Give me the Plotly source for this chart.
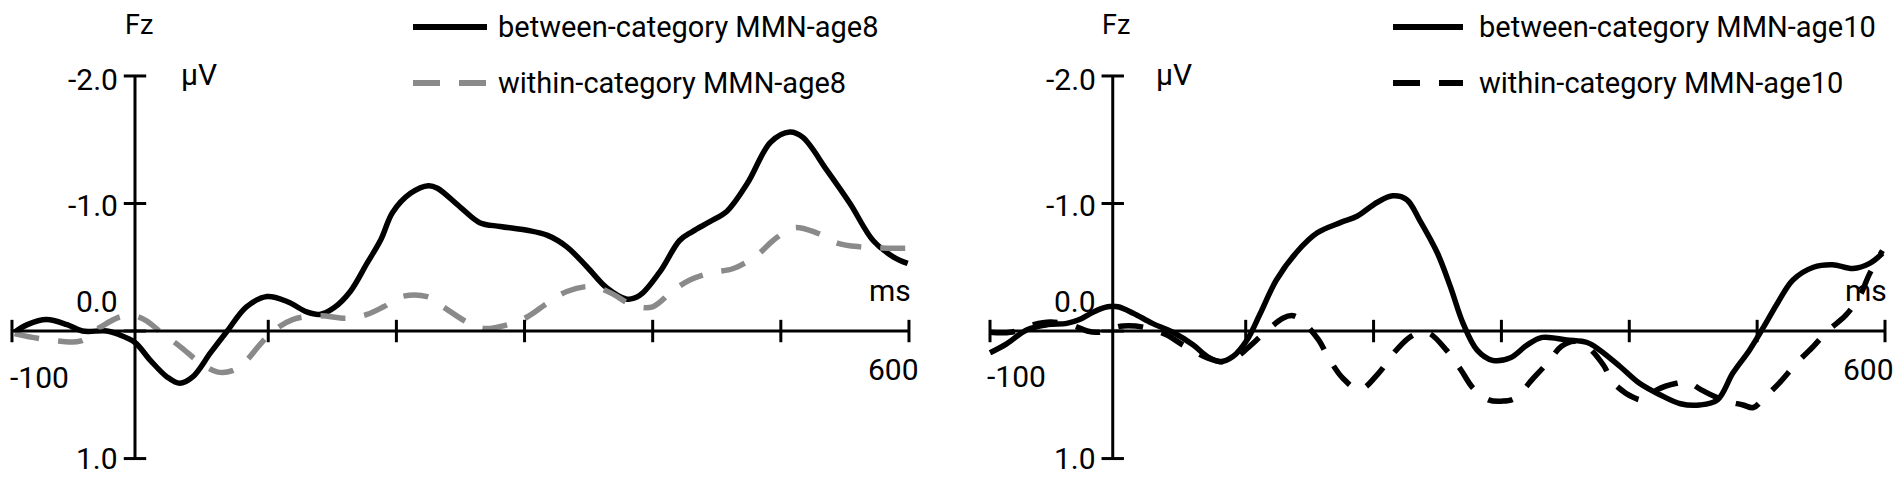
import plotly.graph_objects as go

# the page body keeps its default 8px margin, so the figure is drawn 8px smaller
OFF = 8
W, H = 1902 - OFF, 481 - OFF

# ---------------- data (time in ms, amplitude in µV; negative up) ----------------
t_between8 = [-98, -88, -73, -57, -45, -26, -16, -4, 8, 21, 31, 41, 55, 68, 83, 99,
              115, 130, 140, 151, 164, 177, 188, 197, 211, 225, 232, 250, 265, 281,
              302, 318, 333, 349, 364, 380, 390, 406, 421, 431, 445, 458, 474, 492,
              507, 517, 536, 554, 572, 588, 599]
v_between8 = [0.01, -0.05, -0.09, -0.05, 0.0, 0.0, 0.03, 0.09, 0.23, 0.36, 0.41, 0.36,
              0.17, 0.0, -0.19, -0.27, -0.23, -0.15, -0.13, -0.18, -0.31, -0.53, -0.72,
              -0.93, -1.08, -1.14, -1.12, -0.97, -0.85, -0.82, -0.79, -0.75, -0.66,
              -0.50, -0.34, -0.25, -0.28, -0.47, -0.71, -0.78, -0.86, -0.94, -1.16,
              -1.48, -1.56, -1.52, -1.26, -1.00, -0.71, -0.58, -0.53]

t_within8 = [-98, -84, -62, -47, -31, -16, -5, 5, 15, 31, 47, 60, 72, 83, 94, 104, 119,
             140, 161, 177, 190, 204, 224, 238, 255, 268, 287, 302, 318, 333, 353, 367,
             385, 400, 415, 429, 447, 463, 482, 494, 510, 528, 544, 562, 583, 605]
v_within8 = [0.02, 0.05, 0.08, 0.08, -0.03, -0.11, -0.12, -0.08, 0.0, 0.12, 0.25, 0.32,
             0.31, 0.23, 0.10, 0.0, -0.09, -0.12, -0.10, -0.13, -0.19, -0.27, -0.27,
             -0.18, -0.07, -0.02, -0.05, -0.11, -0.22, -0.31, -0.35, -0.30, -0.20,
             -0.19, -0.31, -0.40, -0.46, -0.49, -0.60, -0.71, -0.81, -0.77, -0.69,
             -0.66, -0.65, -0.65]

t_between10 = [-100, -87, -71, -55, -40, -30, -19, -8, 0, 12, 27, 43, 59, 70, 80, 90,
               101, 111, 124, 140, 156, 174, 187, 203, 215, 226, 236, 250, 260, 270,
               281, 293, 307, 320, 332, 351, 367, 377, 393, 408, 424, 440, 455, 469,
               481, 494, 505, 516, 528, 544, 559, 575, 588, 598]
v_between10 = [0.17, 0.10, -0.01, -0.05, -0.06, -0.09, -0.15, -0.19, -0.19, -0.14,
               -0.06, 0.01, 0.11, 0.20, 0.24, 0.20, 0.07, -0.13, -0.40, -0.62, -0.77,
               -0.85, -0.90, -1.01, -1.06, -1.03, -0.87, -0.61, -0.35, -0.06, 0.15,
               0.23, 0.21, 0.11, 0.05, 0.07, 0.09, 0.15, 0.28, 0.41, 0.50, 0.57, 0.58,
               0.54, 0.33, 0.15, -0.03, -0.22, -0.40, -0.50, -0.52, -0.49, -0.53, -0.61]

t_within10 = [-100, -84, -66, -53, -37, -24, -16, -5, 4, 20, 38, 51, 70, 82, 92, 103,
              113, 129, 137, 145, 157, 166, 176, 189, 204, 216, 228, 237, 244, 257,
              268, 278, 290, 300, 310, 325, 336, 347, 357, 367, 380, 387, 403, 412,
              422, 437, 446, 456, 473, 489, 497, 505, 518, 531, 544, 555, 569, 580,
              588, 598]
v_within10 = [0.01, 0.01, -0.05, -0.07, -0.05, 0.0, 0.01, -0.02, -0.04, -0.03, 0.03,
              0.11, 0.21, 0.24, 0.21, 0.12, 0.03, -0.10, -0.12, -0.07, 0.07, 0.23,
              0.37, 0.46, 0.33, 0.17, 0.05, 0.01, 0.02, 0.15, 0.30, 0.45, 0.54, 0.55,
              0.53, 0.37, 0.25, 0.12, 0.08, 0.12, 0.27, 0.40, 0.52, 0.54, 0.46, 0.41,
              0.40, 0.46, 0.54, 0.58, 0.60, 0.53, 0.40, 0.25, 0.12, 0.0, -0.12, -0.27,
              -0.45, -0.63]

x_ticks = [-100, 100, 200, 300, 400, 500, 600]
y_ticks = [-2.0, -1.0, 0.0, 1.0]
y_ticktext = ["-2.0", "-1.0", "0.0", "1.0"]
x_ticktext = ["-100", "600"]

names8 = ["between-category MMN-age8", "within-category MMN-age8"]
names10 = ["between-category MMN-age10", "within-category MMN-age10"]

# ---------------- figure ----------------
FONT = "Roboto"
FS_LEG = 29
FS_LAB = 30
AX_W = 3
CURVE_W = 5.5
DASH = "25px,19px"
GREY = "#8a8a8a"
YAX_POS = -4  # vertical axis sits slightly left of 0 ms in the original

fig = go.Figure()

panels = [
    dict(xa="x", ya="y", t1=t_between8, v1=v_between8, t2=t_within8, v2=v_within8,
         c2=GREY, names=names8),
    dict(xa="x2", ya="y2", t1=t_between10, v1=v_between10, t2=t_within10, v2=v_within10,
         c2="black", names=names10),
]

for p in panels:
    fig.add_trace(go.Scatter(x=p["t1"], y=p["v1"], mode="lines", name=p["names"][0],
                             line=dict(color="black", width=CURVE_W, shape="spline"),
                             xaxis=p["xa"], yaxis=p["ya"], showlegend=False))
    fig.add_trace(go.Scatter(x=p["t2"], y=p["v2"], mode="lines", name=p["names"][1],
                             line=dict(color=p["c2"], width=CURVE_W, shape="spline", dash=DASH),
                             xaxis=p["xa"], yaxis=p["ya"], showlegend=False))
    # tick marks crossing the axes
    fig.add_trace(go.Scatter(x=x_ticks, y=[0] * len(x_ticks), mode="markers",
                             marker=dict(symbol="line-ns", size=16,
                                         line=dict(color="black", width=AX_W)),
                             xaxis=p["xa"], yaxis=p["ya"], showlegend=False,
                             hoverinfo="skip", cliponaxis=False))
    fig.add_trace(go.Scatter(x=[YAX_POS] * len(y_ticks), y=y_ticks, mode="markers",
                             marker=dict(symbol="line-ew", size=16,
                                         line=dict(color="black", width=AX_W)),
                             xaxis=p["xa"], yaxis=p["ya"], showlegend=False,
                             hoverinfo="skip", cliponaxis=False))

shapes = []
for xa, ya in [("x", "y"), ("x2", "y2")]:
    shapes.append(dict(type="line", xref=xa, yref=ya, x0=x_ticks[0], x1=x_ticks[-1],
                       y0=0, y1=0, line=dict(color="black", width=AX_W)))
    shapes.append(dict(type="line", xref=xa, yref=ya, x0=YAX_POS, x1=YAX_POS,
                       y0=y_ticks[0], y1=y_ticks[-1], line=dict(color="black", width=AX_W)))


def px(x, y):
    # pixel of the original picture -> paper coordinates
    return (x - OFF) / W, 1 - (y - OFF) / H


annotations = []


def label(text, x, y, anchor="center", size=FS_LAB, yanchor="middle"):
    ax, ay = px(x, y)
    annotations.append(dict(text=text, x=ax, y=ay, xref="paper", yref="paper",
                            xanchor=anchor, yanchor=yanchor, showarrow=False,
                            borderpad=0,
                            font=dict(family=FONT, size=size, color="black")))


# "Fz" hangs from the top edge so its box stays inside the figure
label("Fz", 139, OFF, size=27, yanchor="top")
label("Fz", 1116, OFF, size=27, yanchor="top")
label("µV", 180, 74, "left")
label("µV", 1155, 74, "left")
for txt, yy in zip(y_ticktext, [79, 205, 301, 458]):
    label(txt, 119, yy, "right")
    label(txt, 1097, yy, "right")
label(x_ticktext[0], 39, 377)
label(x_ticktext[0], 1016, 376)
label(x_ticktext[1], 893, 369)
label(x_ticktext[1], 1868, 369)
label("ms", 912, 290, "right")
label("ms", 1888, 290, "right")

# hand-drawn legends
for (lx0, lx1, tx), names, c2 in [((413, 487, 497), names8, GREY),
                                  ((1393, 1463, 1478), names10, "black")]:
    for row, (yy, col, dash) in enumerate([(27, "black", "solid"), (83, c2, "27px,19px")]):
        x0, y0 = px(lx0, yy)
        x1, _ = px(lx1, yy)
        shapes.append(dict(type="line", xref="paper", yref="paper", x0=x0, x1=x1,
                           y0=y0, y1=y0, line=dict(color=col, width=6, dash=dash)))
        label(names[row], tx, yy, "left", FS_LEG)

x_range_left = [-103.1, 632.8]
x_range_right = [-130.5, 613.3]
y_range = [1.176, -2.533]
split = (951 - OFF) / W

fig.update_layout(
    width=W, height=H,
    margin=dict(l=0, r=0, t=0, b=0, pad=0),
    paper_bgcolor="white", plot_bgcolor="white",
    showlegend=False,
    xaxis=dict(domain=[0, split], range=x_range_left, visible=False, anchor="y"),
    yaxis=dict(domain=[0, 1], range=y_range, visible=False, anchor="x"),
    xaxis2=dict(domain=[split, 1], range=x_range_right, visible=False, anchor="y2"),
    yaxis2=dict(domain=[0, 1], range=y_range, visible=False, anchor="x2"),
    shapes=shapes,
    annotations=annotations,
)

fig.write_html("out.html")
